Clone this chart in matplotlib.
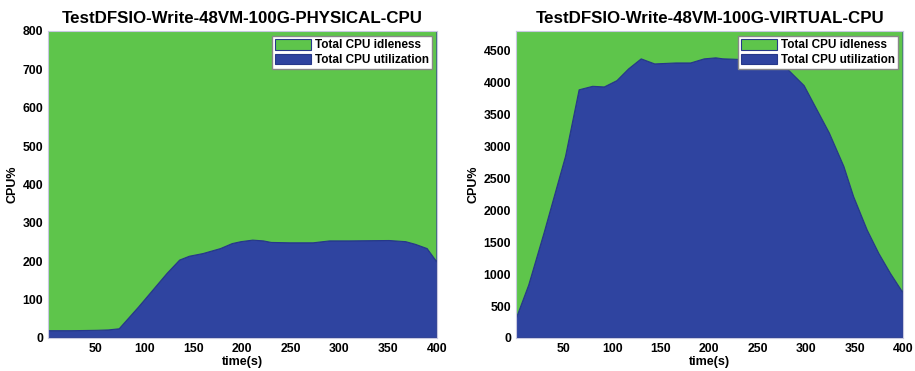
import numpy as np
import matplotlib.pyplot as plt

plt.rcParams['font.family'] = ['Liberation Sans', 'DejaVu Sans']
plt.rcParams['font.weight'] = 'bold'

# physical host CPU
phys_t = [1, 25, 51, 63, 74, 94, 107, 123, 136, 146, 160, 178, 190, 199, 211, 222,
          230, 249, 273, 290, 310, 351, 368, 378, 390, 400]
phys_util = [19, 19, 20, 21, 24, 81, 120, 168, 203, 213, 220, 233, 246, 251, 255, 253,
             249, 248, 248, 253, 253, 254, 251, 244, 233, 198]
phys_total = 800

# virtual machines CPU
virt_t = [1, 14, 30, 42, 52, 66, 80, 92, 105, 117, 130, 144, 166, 181, 195, 207,
          214, 240, 260, 275, 282, 298, 324, 339, 349, 363, 375, 387, 400]
virt_util = [300, 826, 1650, 2300, 2840, 3880, 3935, 3925, 4024, 4207, 4364, 4285,
             4300, 4300, 4364, 4380, 4365, 4350, 4340, 4300, 4186, 3946, 3204, 2681,
             2211, 1688, 1322, 1009, 705]
virt_total = 4800

green = '#5ec54b'
blue = '#2f44a0'

fig = plt.figure(figsize=(9.15, 3.71), dpi=100)
ax1 = fig.add_axes([0.0525, 0.089, 0.425, 0.8275])
ax2 = fig.add_axes([0.564, 0.089, 0.423, 0.8275])

panels = [
    (ax1, phys_t, phys_util, phys_total, 'TestDFSIO-Write-48VM-100G-PHYSICAL-CPU',
     np.arange(0, 801, 100)),
    (ax2, virt_t, virt_util, virt_total, 'TestDFSIO-Write-48VM-100G-VIRTUAL-CPU',
     np.arange(0, 4501, 500)),
]

for ax, t, util, total, title, yticks in panels:
    t = np.array(t)
    util = np.array(util)
    idle = total - util
    ax.stackplot(t, util, idle, colors=[blue, green],
                 edgecolor=['#26388a', '#2a8a2a'], linewidth=0.8,
                 labels=['Total CPU utilization', 'Total CPU idleness'])
    ax.set_xlim(1, 400)
    ax.set_ylim(0, total)
    ax.set_xticks(np.arange(50, 401, 50))
    ax.set_yticks(yticks)
    ax.tick_params(direction='in', length=0, labelsize=8.8)
    for lab in ax.get_xticklabels() + ax.get_yticklabels():
        lab.set_fontweight('bold')
    ax.set_xlabel('time(s)', fontsize=9, fontweight='bold', labelpad=1)
    ax.set_ylabel('CPU%', fontsize=9, fontweight='bold', labelpad=3)
    ax.set_title(title, fontsize=12.2, fontweight='bold', pad=6)
    for s in ax.spines.values():
        s.set_color('#c8c8e0')
    handles, labels = ax.get_legend_handles_labels()
    leg = ax.legend(handles[::-1], labels[::-1], loc='upper right', fontsize=8.5,
                    fancybox=False, framealpha=1, edgecolor='#888888',
                    borderaxespad=0.4, handlelength=3.0, handleheight=1.05,
                    borderpad=0.25, labelspacing=0.2, handletextpad=0.4)
    for txt in leg.get_texts():
        txt.set_fontweight('bold')

fig.savefig('out.png', dpi=100)
